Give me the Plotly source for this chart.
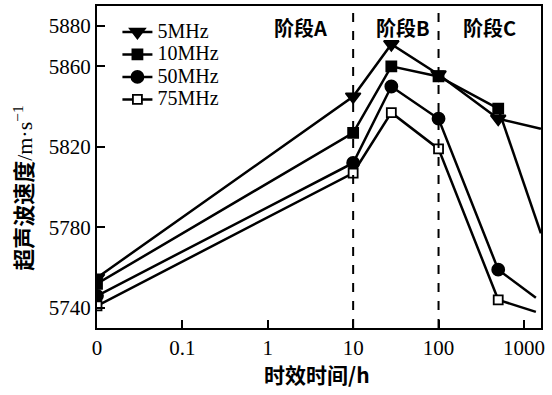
import math
import plotly.graph_objects as go

# x: aging time (h); "0" plotted at 0.01 on the log axis
time_h = [0.01, 10, 28, 100, 500]
series_names = ["5MHz", "10MHz", "50MHz", "75MHz"]
v_5mhz = [5755, 5845, 5871, 5856, 5834]
v_10mhz = [5752, 5827, 5860, 5855, 5839]
v_50mhz = [5746, 5812, 5850, 5834, 5759]
v_75mhz = [5741, 5807, 5837, 5819, 5744]
# tail end of each line (no marker drawn at this point)
tail_x = [1580, 1580, 1380, 1380]
tail_v = [5829, 5777, 5745, 5738]

tick_vals = [0.01, 0.1, 1, 10, 100, 1000]
tick_text = ["0", "0.1", "1", "10", "100", "1000"]
y_ticks = [5740, 5780, 5820, 5860, 5880]
stage_labels = ["阶段A", "阶段B", "阶段C"]
stage_x = [2.43, 38, 400]
stage_bounds = [10, 100]

symbols = ["triangle-down", "square", "circle", "square"]
fills = ["black", "black", "black", "white"]
sizes = [13, 10, 12, 9]
values = [v_5mhz, v_10mhz, v_50mhz, v_75mhz]

fig = go.Figure()
for i, name in enumerate(series_names):
    fig.add_trace(go.Scatter(
        x=[time_h[-1], tail_x[i]], y=[values[i][-1], tail_v[i]], mode="lines",
        line=dict(color="black", width=2.5), showlegend=False, hoverinfo="skip",
    ))
for i, name in enumerate(series_names):
    fig.add_trace(go.Scatter(
        x=time_h, y=values[i],
        name='<span style="font-size:20px">' + name + '</span>',
        mode="lines+markers",
        line=dict(color="black", width=2.5),
        marker=dict(symbol=symbols[i], size=sizes[i], color=fills[i], opacity=1,
                    line=dict(color="black", width=1.8)),
    ))

for b in stage_bounds:
    fig.add_shape(type="line", x0=b, x1=b, y0=0, y1=1, xref="x", yref="paper",
                  line=dict(color="black", width=2, dash="dash"))

# annotations on a log axis take log10 positions
for lab, sx in zip(stage_labels, stage_x):
    fig.add_annotation(x=math.log10(sx), y=(328 - 26) / 324, xref="x", yref="paper",
                       xanchor="center", yanchor="middle", text="<b>" + lab + "</b>",
                       showarrow=False,
                       font=dict(family="Noto Sans CJK SC, Liberation Serif", size=20, color="black"))

fig.add_annotation(x=(317 - 97) / 444, y=-(374 - 328) / 324, xref="paper", yref="paper",
                   xanchor="center", yanchor="middle",
                   text="<b>时效时间/h</b>", showarrow=False,
                   font=dict(family="Noto Sans CJK SC", size=21, color="black"))
fig.add_annotation(x=(22 - 97) / 444, y=(328 - 187) / 324, xref="paper", yref="paper",
                   xanchor="center", yanchor="middle", textangle=-90,
                   text='<b>超声波速度</b><span style="font-family:Liberation Serif">/m·s<sup>−1</sup></span>',
                   showarrow=False,
                   font=dict(family="Noto Sans CJK SC", size=22, color="black"))

fig.update_xaxes(type="log", range=[-2.0, 3.2], tickvals=tick_vals, ticktext=tick_text,
                 ticks="inside", ticklen=8, tickwidth=2, tickcolor="black",
                 showline=True, linecolor="black", linewidth=2, mirror=True,
                 showgrid=False, zeroline=False,
                 tickfont=dict(family="Liberation Serif", size=21, color="black"))
fig.update_yaxes(range=[5730, 5890], tickvals=y_ticks,
                 ticks="inside", ticklen=8, tickwidth=2, tickcolor="black",
                 showline=True, linecolor="black", linewidth=2, mirror=True,
                 showgrid=False, zeroline=False,
                 tickfont=dict(family="Liberation Serif", size=21, color="black"))

fig.update_layout(
    width=552, height=395,
    margin=dict(l=97, r=11, t=4, b=67),
    plot_bgcolor="white", paper_bgcolor="white",
    showlegend=True,
    legend=dict(x=0.046, y=0.97, xanchor="left", yanchor="top",
                bgcolor="rgba(0,0,0,0)", font=dict(family="Liberation Serif", size=15, color="black"),
                tracegroupgap=0),
)

fig.write_html("out.html", config={"displayModeBar": False},
               post_script="document.body.style.margin='0';")
